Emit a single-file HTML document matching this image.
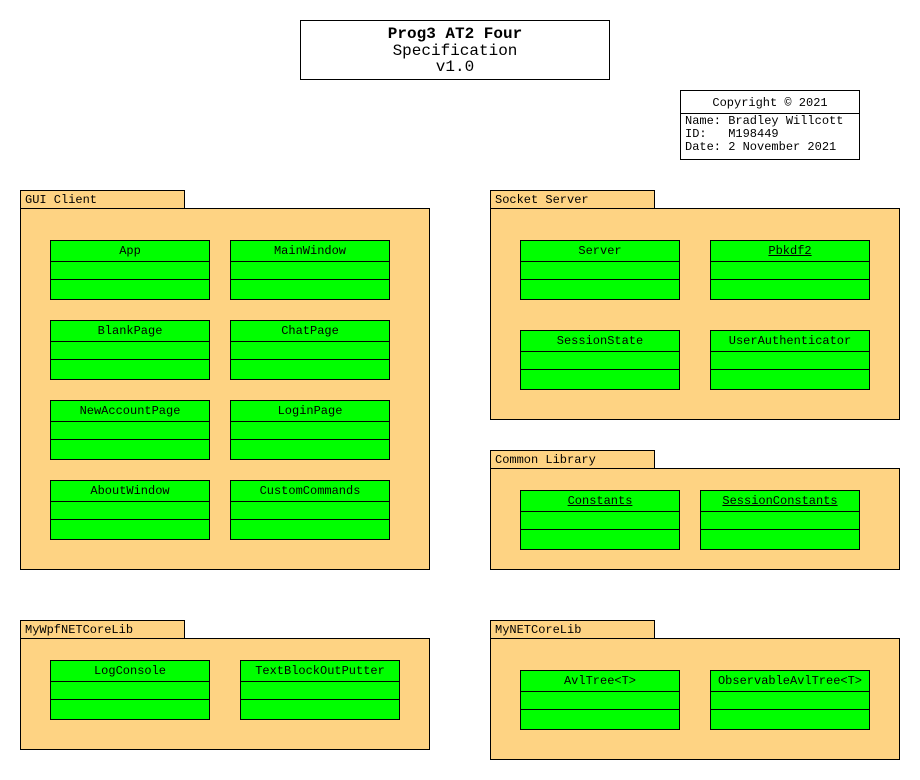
<!DOCTYPE html>
<html><head><style>
body{margin:0;width:920px;height:780px;background:#fff;position:relative;font-family:"Liberation Mono",monospace;font-size:12px;color:#000}
div{position:absolute;box-sizing:border-box}
.tab{background:#fed383;border:1px solid #000;height:19px;width:165px;padding-left:4px;line-height:18px}
.body{background:#fed383;border:1px solid #000}
.c{background:#00ff00;border:1px solid #000;width:160px;height:60px}
.c .h{left:0;right:0;top:0;height:21px;text-align:center;line-height:21px;border-bottom:1px solid #000}
.c .m{left:0;right:0;top:38px;border-top:1px solid #000}
u{text-decoration:underline}
</style></head><body>
<div style="left:300px;top:20px;width:310px;height:60px;border:1.5px solid #000;text-align:center;font-size:16px;line-height:16.5px;padding-top:5px">
<b>Prog3 AT2 Four</b><br>Specification<br>v1.0</div>
<div style="left:680px;top:90px;width:180px;height:70px;border:1px solid #000">
<div style="left:0;right:0;top:0;height:23px;border-bottom:1px solid #000;text-align:center;line-height:24px">Copyright © 2021</div>
<div style="left:4px;top:24px;line-height:13px;white-space:pre">Name: Bradley Willcott
ID:   M198449
Date: 2 November 2021</div></div>

<div class="tab" style="left:20px;top:190px">GUI Client</div>
<div class="body" style="left:20px;top:208px;width:410px;height:362px"></div>
<div class="tab" style="left:490px;top:190px">Socket Server</div>
<div class="body" style="left:490px;top:208px;width:410px;height:212px"></div>
<div class="tab" style="left:490px;top:450px">Common Library</div>
<div class="body" style="left:490px;top:468px;width:410px;height:102px"></div>
<div class="tab" style="left:20px;top:620px">MyWpfNETCoreLib</div>
<div class="body" style="left:20px;top:638px;width:410px;height:112px"></div>
<div class="tab" style="left:490px;top:620px">MyNETCoreLib</div>
<div class="body" style="left:490px;top:638px;width:410px;height:122px"></div>

<div class="c" style="left:50px;top:240px"><div class="h">App</div><div class="m"></div></div>
<div class="c" style="left:230px;top:240px"><div class="h">MainWindow</div><div class="m"></div></div>
<div class="c" style="left:50px;top:320px"><div class="h">BlankPage</div><div class="m"></div></div>
<div class="c" style="left:230px;top:320px"><div class="h">ChatPage</div><div class="m"></div></div>
<div class="c" style="left:50px;top:400px"><div class="h">NewAccountPage</div><div class="m"></div></div>
<div class="c" style="left:230px;top:400px"><div class="h">LoginPage</div><div class="m"></div></div>
<div class="c" style="left:50px;top:480px"><div class="h">AboutWindow</div><div class="m"></div></div>
<div class="c" style="left:230px;top:480px"><div class="h">CustomCommands</div><div class="m"></div></div>

<div class="c" style="left:520px;top:240px"><div class="h">Server</div><div class="m"></div></div>
<div class="c" style="left:710px;top:240px"><div class="h"><u>Pbkdf2</u></div><div class="m"></div></div>
<div class="c" style="left:520px;top:330px"><div class="h">SessionState</div><div class="m"></div></div>
<div class="c" style="left:710px;top:330px"><div class="h">UserAuthenticator</div><div class="m"></div></div>

<div class="c" style="left:520px;top:490px"><div class="h"><u>Constants</u></div><div class="m"></div></div>
<div class="c" style="left:700px;top:490px"><div class="h"><u>SessionConstants</u></div><div class="m"></div></div>

<div class="c" style="left:50px;top:660px"><div class="h">LogConsole</div><div class="m"></div></div>
<div class="c" style="left:240px;top:660px"><div class="h">TextBlockOutPutter</div><div class="m"></div></div>

<div class="c" style="left:520px;top:670px"><div class="h">AvlTree&lt;T&gt;</div><div class="m"></div></div>
<div class="c" style="left:710px;top:670px"><div class="h">ObservableAvlTree&lt;T&gt;</div><div class="m"></div></div>
</body></html>
